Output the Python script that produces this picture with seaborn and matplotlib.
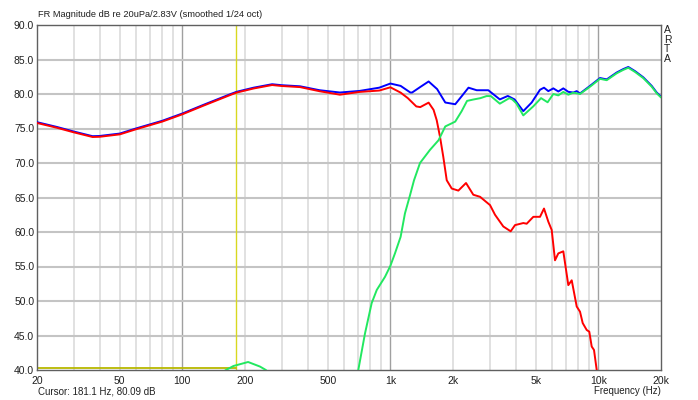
import matplotlib
matplotlib.use("Agg")
import matplotlib.pyplot as plt
import matplotlib.transforms as mtransforms
import seaborn as sns
import pandas as pd

# Woofer (red), tweeter (green) and summed (blue) responses
blue_hz = [20, 25, 30, 37, 40, 50, 60, 80, 100, 126, 170, 182, 220, 270, 300, 368, 457, 572,
           711, 884, 1000, 1120, 1247, 1272, 1392, 1527, 1677, 1836, 2050, 2207, 2374, 2600,
           2956, 3359, 3669, 3953, 4354, 4779, 5240, 5477, 5744, 6072, 6417, 6781, 7168,
           7577, 7866, 8158, 9115, 10178, 10964, 12248, 13178, 13926, 14998, 16440, 18045,
           19070, 20000]
blue_db = [75.8, 75.1, 74.45, 73.77, 73.8, 74.15, 74.9, 76.0, 77.06, 78.3, 79.86, 80.2, 80.8,
           81.3, 81.16, 81.0, 80.43, 80.1, 80.33, 80.8, 81.4, 81.06, 80.1, 80.1, 80.9, 81.7,
           80.6, 78.65, 78.4, 79.6, 80.8, 80.43, 80.43, 79.1, 79.6, 79.1, 77.4, 78.65, 80.5,
           80.8, 80.3, 80.7, 80.25, 80.7, 80.2, 80.1, 80.3, 79.96, 81.06, 82.2, 82.0, 83.0,
           83.5, 83.8, 83.2, 82.3, 81.06, 80.1, 79.5]

red_hz = [20, 25, 30, 37, 40, 50, 60, 80, 100, 126, 170, 182, 220, 270, 300, 368, 457, 572,
          711, 884, 1000, 1120, 1213, 1332, 1392, 1527, 1613, 1670, 1732, 1796, 1866, 1972,
          2122, 2310, 2504, 2698, 3013, 3184, 3490, 3787, 3974, 4356, 4522, 4866, 5240, 5477,
          5744, 5964, 6186, 6417, 6781, 7168, 7443, 7866, 8158, 8406, 8786, 9042, 9286, 9526,
          9816, 10200]
red_db = [75.8, 75.1, 74.45, 73.77, 73.8, 74.15, 74.9, 76.0, 77.06, 78.3, 79.86, 80.2, 80.8,
          81.3, 81.16, 81.0, 80.4, 79.9, 80.3, 80.5, 80.97, 80.2, 79.4, 78.2, 78.1, 78.75,
          77.7, 76.2, 73.8, 70.9, 67.5, 66.3, 66.0, 67.1, 65.4, 65.1, 63.9, 62.5, 60.8, 60.1,
          61.0, 61.3, 61.2, 62.2, 62.2, 63.4, 61.5, 60.3, 55.9, 56.9, 57.2, 52.3, 53.0, 49.2,
          48.45, 46.8, 45.8, 45.55, 43.4, 42.9, 40.0, 37.0]

green_hz = [120, 162, 176, 207, 236, 252, 300, 400, 500, 600, 701, 755, 813, 860, 942, 1000,
            1052, 1120, 1175, 1242, 1299, 1388, 1550, 1704, 1836, 1972, 2050, 2200, 2336,
            2504, 2710, 2900, 3040, 3359, 3730, 3860, 4030, 4354, 4860, 5300, 5700, 6072,
            6417, 6781, 7168, 7577, 8158, 9115, 10178, 10964, 12248, 13178, 13926, 14998,
            16440, 18045, 19070, 20000]
green_db = [37.5, 40.0, 40.58, 41.16, 40.5, 40.0, 37.5, 33.5, 32.0, 35.0, 40.0, 45.3, 49.7,
            51.6, 53.5, 55.1, 56.9, 59.3, 62.7, 65.3, 67.5, 70.0, 71.9, 73.3, 75.3, 75.75,
            76.0, 77.5, 79.0, 79.2, 79.4, 79.7, 79.7, 78.6, 79.4, 79.2, 78.65, 76.9, 78.2,
            79.4, 78.8, 80.0, 79.8, 80.3, 79.9, 80.2, 80.0, 81.06, 82.2, 82.0, 83.0, 83.5,
            83.8, 83.2, 82.3, 81.06, 80.1, 79.5]

# Cursor marker
cursor_hz = 181.1
cursor_floor_db = 40.25

x_ticks = [20, 50, 100, 200, 500, 1000, 2000, 5000, 10000, 20000]
x_labels = ["20", "50", "100", "200", "500", "1k", "2k", "5k", "10k", "20k"]
y_ticks = [40, 45, 50, 55, 60, 65, 70, 75, 80, 85, 90]

sns.set_style("white")
plt.rcParams['font.family'] = ['Liberation Sans', 'DejaVu Sans']

fig = plt.figure(figsize=(6.98, 4.0), dpi=100)
ax = fig.add_axes([0.053, 0.075, 0.894, 0.8625])
ax.set_xscale('log')

# grid: light minor verticals, darker decade lines, gray horizontals
minor = [m * d for d in (10, 100, 1000, 10000) for m in range(2, 10)]
minor = [f for f in minor if 20 < f < 20000]
for f in minor:
    ax.axvline(f, color='#dcdcdc', lw=1.2, zorder=0)
for f in (100, 1000, 10000):
    ax.axvline(f, color='#a0a0a0', lw=1.0, zorder=0)
for v in y_ticks[1:-1]:
    ax.axhline(v, color='#c4c4c4', lw=1.5, zorder=0)

# cursor
ax.axvline(cursor_hz, color='#d8d820', lw=1.0, zorder=1)
ax.plot([20, cursor_hz], [cursor_floor_db, cursor_floor_db], color='#b8b800', lw=1.3, zorder=1)

blue = pd.DataFrame({'hz': blue_hz, 'db': blue_db})
red = pd.DataFrame({'hz': red_hz, 'db': red_db})
green = pd.DataFrame({'hz': green_hz, 'db': green_db})

sns.lineplot(data=blue, x='hz', y='db', ax=ax, color='#0000ff', lw=1.4, zorder=3)
ax.lines[-1].set_transform(mtransforms.offset_copy(ax.transData, fig=fig, x=0, y=0.8, units='dots'))
sns.lineplot(data=red, x='hz', y='db', ax=ax, color='#ff0000', lw=1.4, zorder=4)
sns.lineplot(data=green, x='hz', y='db', ax=ax, color='#22e860', lw=1.4, zorder=5)

ax.set_xlim(20, 20000)
ax.set_ylim(40, 90)
ax.set_xticks(x_ticks)
ax.set_xticklabels(x_labels)
ax.set_xticks([], minor=True)
ax.set_yticks(y_ticks)
ax.set_yticklabels([f"{v:.1f}" for v in y_ticks])
ax.tick_params(length=0, labelsize=7.5, colors='#202020')
ax.tick_params(axis='y', pad=2)
ax.tick_params(axis='x', pad=4)
ax.set_xlabel('')
ax.set_ylabel('')
for s in ax.spines.values():
    s.set_color('#606060')
    s.set_linewidth(1.0)

fig.text(0.054, 0.952, "FR Magnitude dB re 20uPa/2.83V (smoothed 1/24 oct)",
         fontsize=6.7, color='#202020', ha='left', va='bottom')
fig.text(0.951, 0.937, "A\nR\nT\nA", fontsize=7.5, color='#202020', ha='left', va='top',
         linespacing=0.95)
fig.text(0.054, 0.01, "Cursor: 181.1 Hz, 80.09 dB", fontsize=7, color='#202020',
         ha='left', va='bottom')
fig.text(0.947, 0.01, "Frequency (Hz)", fontsize=7, color='#202020', ha='right', va='bottom')

fig.savefig("out.png", dpi=100)
